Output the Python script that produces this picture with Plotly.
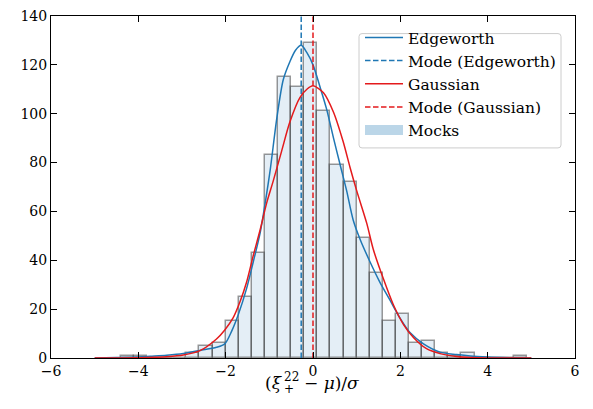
import plotly.graph_objects as go

# ---------------- data ----------------
bin_edges = [-4.4, -4.1, -3.8, -3.5, -3.2, -2.9, -2.6, -2.3, -2.0, -1.7, -1.4,
             -1.1, -0.8, -0.5, -0.2, 0.1, 0.4, 0.7, 1.0, 1.3, 1.6, 1.9, 2.2,
             2.5, 2.8, 3.1, 3.4, 3.7, 4.0, 4.3, 4.6, 4.9]
mock_counts = [1, 1, 0, 0, 0, 2, 5, 6, 15, 25, 43, 83, 115, 111, 129, 101,
               79, 72, 49, 35, 15, 18, 6, 7, 2, 1, 2, 0, 0, 0, 1]

edge_x = [-5.0, -4.5, -4.0, -3.73, -3.35, -2.97, -2.59, -2.21, -2.02, -1.86,
          -1.71, -1.52, -1.37, -1.21, -1.09, -0.98, -0.83, -0.68, -0.53, -0.40,
          -0.27, -0.14, 0.0, 0.16, 0.31, 0.47, 0.62, 0.77, 0.92, 1.08, 1.31,
          1.53, 1.76, 1.99, 2.22, 2.53, 2.91, 3.29, 3.6, 4.0, 4.5, 5.0]
edge_y = [0.0, 0.2, 0.4, 0.7, 1.1, 1.8, 3.1, 4.4, 5.8, 11.1,
          17.8, 28.5, 39.2, 51.2, 64.0, 77.0, 98.0, 114.0, 121.3, 126.0,
          128.0, 125.0, 120.0, 111.0, 102.0, 90.0, 79.2, 68.5, 56.5, 48.5, 39.2,
          31.1, 23.8, 16.4, 10.4, 5.8, 2.4, 1.4, 0.8, 0.4, 0.15, 0.0]

gauss_x = [-5.0, -4.0, -3.6, -3.35, -2.97, -2.59, -2.21, -2.02, -1.83, -1.67,
           -1.52, -1.37, -1.21, -1.06, -0.91, -0.72, -0.53, -0.30, -0.14, 0.0,
           0.24, 0.47, 0.69, 0.85, 1.0, 1.23, 1.38, 1.61, 1.84, 2.07, 2.3,
           2.6, 2.91, 3.29, 3.6, 4.0, 5.0]
gauss_y = [0.0, 0.1, 0.3, 0.5, 1.2, 3.0, 7.8, 11.5, 16.4, 23.1,
           31.1, 41.8, 52.5, 63.5, 72.5, 84.6, 96.6, 106.6, 110.0, 111.4,
           108.6, 100.6, 88.6, 77.9, 68.5, 55.2, 44.5, 32.5, 21.8, 13.8, 8.4,
           3.8, 1.8, 0.6, 0.2, 0.05, 0.0]

mode_edgeworth = -0.27
mode_gaussian = 0.0

x_range = [-6, 6]
y_range = [0, 140]

# ---------------- figure ----------------
BLUE = "#1f77b4"
RED = "#e41a1c"
FONT = "DejaVu Serif"

bin_centers = [(a + b) / 2 for a, b in zip(bin_edges[:-1], bin_edges[1:])]
bin_widths = [b - a for a, b in zip(bin_edges[:-1], bin_edges[1:])]

fig = go.Figure()

fig.add_trace(go.Bar(
    x=bin_centers, y=mock_counts, width=bin_widths,
    marker=dict(color="rgba(31,119,180,0.12)",
                line=dict(color="rgba(70,70,70,0.55)", width=1.5)),
    showlegend=False, hoverinfo="skip"))

fig.add_trace(go.Scatter(
    x=edge_x, y=edge_y, mode="lines", name="Edgeworth",
    line=dict(color=BLUE, width=1.5, shape="spline", smoothing=0.8)))
fig.add_trace(go.Scatter(
    x=[mode_edgeworth, mode_edgeworth], y=y_range, mode="lines",
    name="Mode (Edgeworth)",
    line=dict(color=BLUE, width=1.5, dash="5.5px,2.5px")))
fig.add_trace(go.Scatter(
    x=gauss_x, y=gauss_y, mode="lines", name="Gaussian",
    line=dict(color=RED, width=1.5, shape="spline", smoothing=0.8)))
fig.add_trace(go.Scatter(
    x=[mode_gaussian, mode_gaussian], y=y_range, mode="lines",
    name="Mode (Gaussian)",
    line=dict(color=RED, width=1.5, dash="5.5px,2.5px")))
fig.add_trace(go.Scatter(
    x=[None], y=[None], mode="lines", name="Mocks",
    line=dict(color="rgba(31,119,180,0.3)", width=10)))

L, R, T, B = 51, 18, 8, 51
W, H = 593, 409
pw, ph = W - L - R, H - T - B


def px2paper_x(px):
    return (px - L) / pw


def py2paper_y(py):
    return (H - B - py) / ph


axis_common = dict(
    showline=True, linecolor="black", linewidth=1, mirror="ticks",
    ticks="inside", ticklen=6, tickwidth=1, tickcolor="black",
    showgrid=False, zeroline=False, ticklabeloverflow="allow",
    tickfont=dict(family=FONT, size=14, color="black"),
)

fig.update_layout(
    width=W, height=H,
    margin=dict(l=L, r=R, t=T, b=B),
    paper_bgcolor="white", plot_bgcolor="white",
    barmode="overlay", bargap=0,
    xaxis=dict(range=x_range, dtick=2, tick0=0, **axis_common),
    yaxis=dict(range=y_range, dtick=20, tick0=0, **axis_common),
    legend=dict(
        x=px2paper_x(360), y=py2paper_y(13), xanchor="left", yanchor="top",
        bgcolor="rgba(0,0,0,0)", borderwidth=0,
        font=dict(family=FONT, size=15.5, color="black"),
        tracegroupgap=0, itemwidth=38),
    showlegend=True,
)

# legend frame (rounded box) drawn as a layout shape in paper coordinates
bx0, bx1 = px2paper_x(359), px2paper_x(561)
by0, by1 = py2paper_y(143), py2paper_y(26)
rx, ry = 3 / pw, 3 / ph
box_path = (f"M{bx0 + rx},{by1} L{bx1 - rx},{by1} Q{bx1},{by1} {bx1},{by1 - ry} "
            f"L{bx1},{by0 + ry} Q{bx1},{by0} {bx1 - rx},{by0} "
            f"L{bx0 + rx},{by0} Q{bx0},{by0} {bx0},{by0 + ry} "
            f"L{bx0},{by1 - ry} Q{bx0},{by1} {bx0 + rx},{by1} Z")
fig.add_shape(type="path", path=box_path, xref="paper", yref="paper",
              fillcolor="rgba(255,255,255,0.85)",
              line=dict(color="#cccccc", width=1), layer="above")

# x-axis label (ξ_+^22 − μ)/σ built from pieces so sub/superscript stack
lab_font = dict(family=FONT, size=17, color="black")
small_font = dict(family=FONT, size=12, color="black")
ann = [
    dict(text="(<i>ξ</i>", x=px2paper_x(284), y=py2paper_y(384),
         xanchor="right", yanchor="middle", font=lab_font),
    dict(text="22", x=px2paper_x(283), y=py2paper_y(377),
         xanchor="left", yanchor="middle", font=small_font),
    dict(text="+", x=px2paper_x(283), y=py2paper_y(390),
         xanchor="left", yanchor="middle", font=small_font),
    dict(text="− <i>μ</i>)/<i>σ</i>", x=px2paper_x(303), y=py2paper_y(384),
         xanchor="left", yanchor="middle", font=lab_font),
]
for a in ann:
    fig.add_annotation(xref="paper", yref="paper", showarrow=False,
                       borderpad=0, **a)

fig.write_html("out.html",
               config={"displayModeBar": False},
               post_script="document.body.style.margin='0px';"
                           "document.body.style.overflow='hidden';")
